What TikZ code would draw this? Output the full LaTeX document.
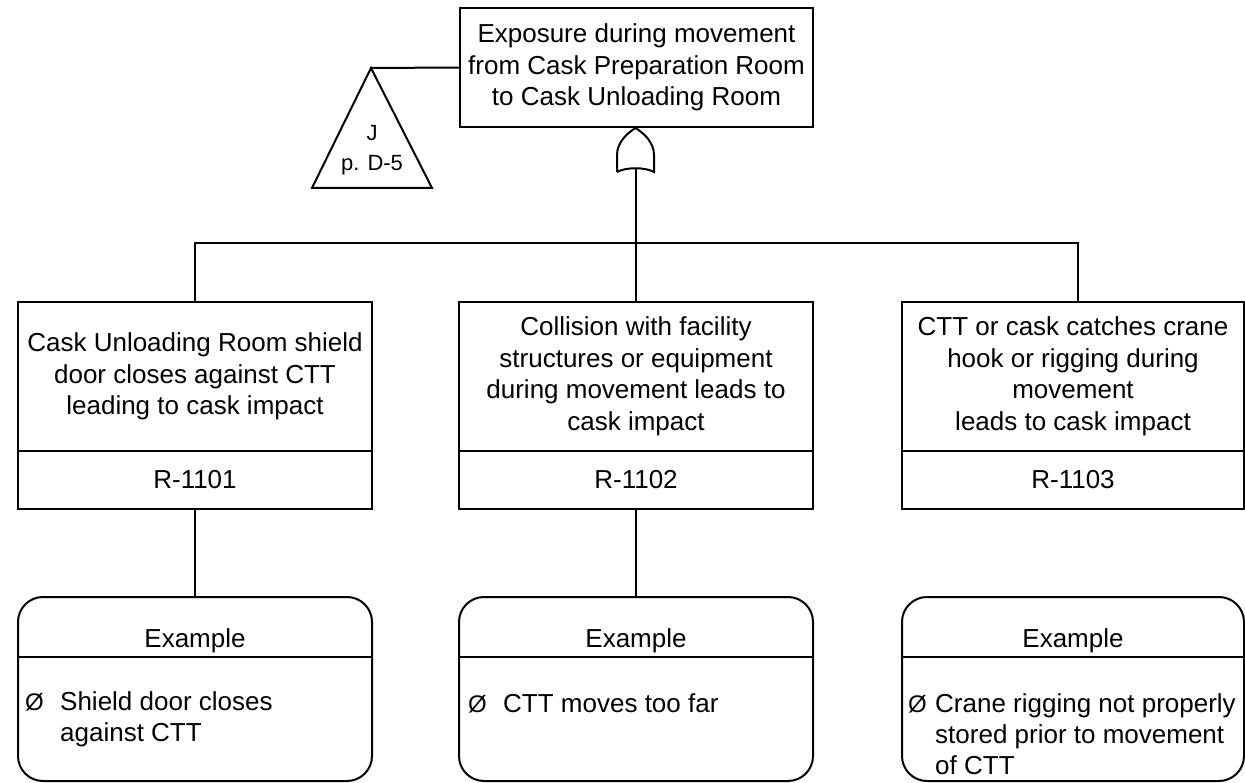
\documentclass[tikz,border=0pt]{standalone}
\usepackage{fontspec}
\setmainfont{Liberation Sans}
\usetikzlibrary{calc}

\tikzset{
  wire/.style={line width=2pt, line cap=rect},
  eventbox/.style={draw, line width=2pt, align=center, inner sep=0pt, outer sep=0pt,
    minimum height=149pt, font=\fontsize{26}{31.5}\selectfont},
  codebox/.style={draw, line width=2pt, inner sep=0pt, outer sep=0pt, anchor=north,
    minimum height=58pt, font=\fontsize{26}{31}\selectfont},
  examplebox/.style={draw, line width=2pt, rounded corners=25pt, inner sep=0pt, outer sep=0pt,
    minimum height=184pt},
  extitle/.style={anchor=base, inner sep=0pt, font=\fontsize{26}{31}\selectfont},
  exmark/.style={anchor=base west, inner sep=0pt, font=\fontsize{24}{31}\selectfont},
  extext/.style={anchor=north west, inner sep=0pt, align=left, font=\fontsize{26}{31}\selectfont},
}

\begin{document}
\begin{tikzpicture}[x=1pt, y=-1pt]
  \useasboundingbox (0,0) rectangle (1245,783);

  % top event
  \node[eventbox, minimum width=353pt, minimum height=119pt] (top) at (636.5,67.5)
    {Exposure during movement\\from Cask Preparation Room\\to Cask Unloading Room};

  % transfer triangle
  \coordinate (apex) at (371,68);
  \coordinate (tbl) at (312,188);
  \coordinate (tbr) at (432,188);
  \draw[line width=2pt, line join=miter] (apex) -- (tbr) -- (tbl) -- cycle;
  \node[align=center, inner sep=0pt, font=\fontsize{22}{30}\selectfont] (xfer) at (372,150) {J\\p. D-5};
  \draw[wire] (apex) -- (top.west);

  % OR gate
  \node[inner sep=0pt, outer sep=0pt, minimum width=37pt, minimum height=44pt] (gate) at (635.5,150) {};
  \draw[line width=2pt]
    (gate.south west) -- ($(gate.west)+(0,5)$)
    .. controls ($(gate.west)+(0,-8)$) and ($(gate.north)+(-8,5)$) .. (gate.north)
    .. controls ($(gate.north)+(8,5)$) and ($(gate.east)+(0,-8)$) .. ($(gate.east)+(0,5)$)
    -- (gate.south east)
    .. controls ($(gate.south east)+(-9,-5)$) and ($(gate.south west)+(9,-5)$) .. (gate.south west);
  \coordinate (gateout) at ($(gate.south)+(0,-3)$);

  % basic events
  \node[eventbox, minimum width=354pt] (e1) at (195,376.5)
    {Cask Unloading Room shield\\door closes against CTT\\leading to cask impact};
  \node[codebox, minimum width=354pt] (c1) at (e1.south) {R-1101};

  \node[eventbox, minimum width=354pt] (e2) at (636,376.5)
    {Collision with facility\\structures or equipment\\during movement leads to\\cask impact};
  \node[codebox, minimum width=354pt] (c2) at (e2.south) {R-1102};

  \node[eventbox, minimum width=342pt] (e3) at (1073,376.5)
    {CTT or cask catches crane\\hook or rigging during\\movement\\leads to cask impact};
  \node[codebox, minimum width=342pt] (c3) at (e3.south) {R-1103};

  % bus below the gate
  \coordinate (bus) at (0,243);
  \coordinate (e3in) at ($(e3.north)+(5,0)$);
  \draw[wire] (gateout) -- (gateout |- bus);
  \draw[wire] (e1.north) -- (e1.north |- bus) -- (e3in |- bus) -- (e3in);
  \draw[wire] (e2.north) -- (e2.north |- bus);

  % example boxes
  \node[examplebox, minimum width=354pt] (x1) at (195,689) {};
  \node[examplebox, minimum width=354pt] (x2) at (636,689) {};
  \node[examplebox, minimum width=342pt] (x3) at (1073,689) {};

  \foreach \b in {x1,x2,x3}{
    \draw[line width=2pt] ($(\b.north west)+(0,60)$) -- ($(\b.north east)+(0,60)$);
    \node[extitle] (\b t) at ($(\b.north)+(0,50)$) {Example};
  }

  \node[exmark] (x1m) at ($(x1.north west)+(7,113)$) {Ø};
  \node[extext] (x1b) at ($(x1.north west)+(42,94)$) {Shield door closes\\against CTT};
  \node[exmark] (x2m) at ($(x2.north west)+(9,115)$) {Ø};
  \node[extext] (x2b) at ($(x2.north west)+(44,96)$) {CTT moves too far};
  \node[exmark] (x3m) at ($(x3.north west)+(6,115)$) {Ø};
  \node[extext] (x3b) at ($(x3.north west)+(33,96)$) {Crane rigging not properly\\stored prior to movement\\of CTT};

  % codes to examples
  \draw[wire] (c1.south) -- (c1.south |- x1.north);
  \draw[wire] (c2.south) -- (c2.south |- x2.north);
  \draw[wire] ($(c3.south)+(5,0)$) -- ($(c3.south)+(5,0)$ |- x3.north);
\end{tikzpicture}
\end{document}
